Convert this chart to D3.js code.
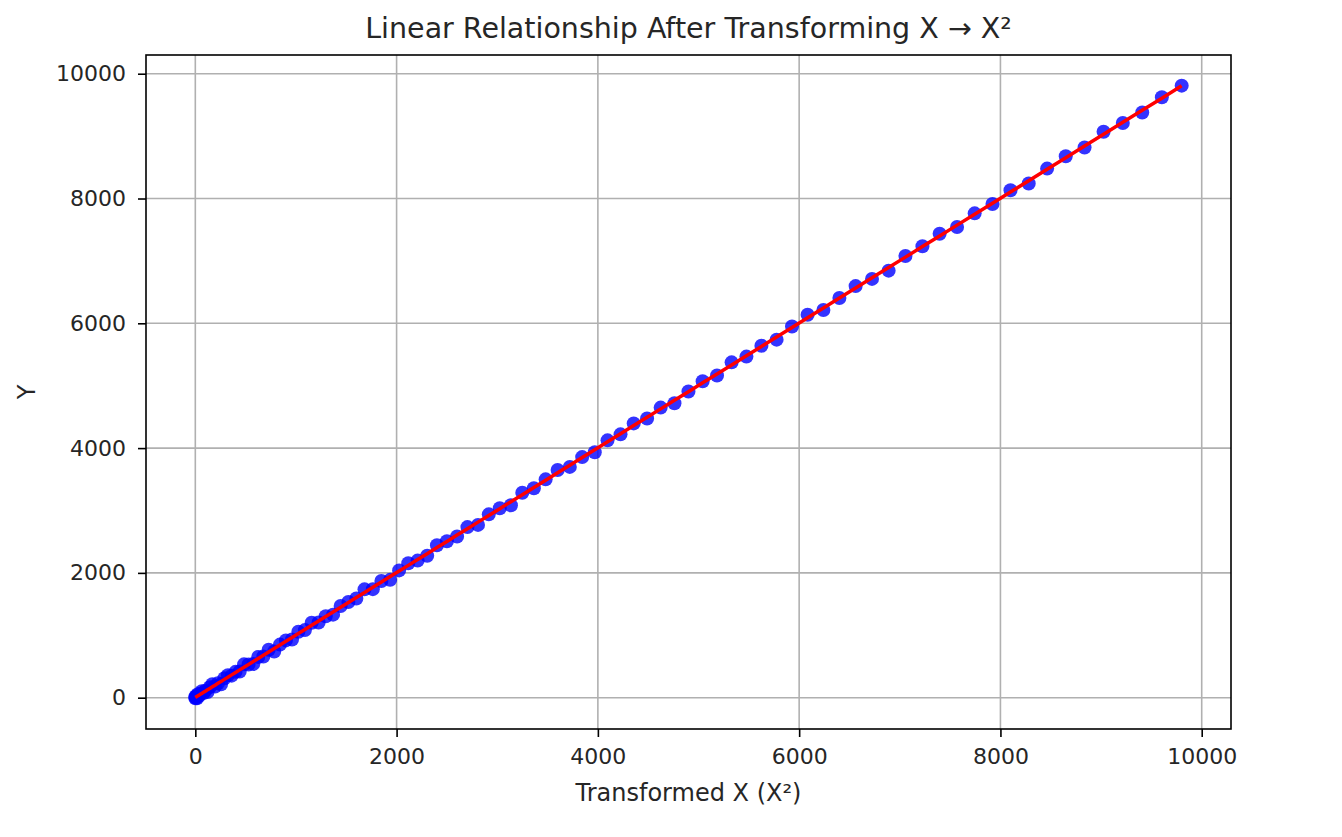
<!DOCTYPE html>
<meta charset="utf-8">
<script src="https://d3js.org/d3.v7.min.js"></script>
<style>
  body { margin: 0; background: #fff; }
  text { font-family: "DejaVu Sans", sans-serif; fill: #262626; }
</style>
<div id="chart"></div>
<script>

  // transformed x values (X squared) and observed y
  const xSquared = [0,1,4,9,16,25,36,49,64,81,100,121,144,169,196,225,256,289,324,361,
    400,441,484,529,576,625,676,729,784,841,900,961,1024,1089,1156,1225,1296,1369,1444,1521,
    1600,1681,1764,1849,1936,2025,2116,2209,2304,2401,2500,2601,2704,2809,2916,3025,3136,3249,3364,3481,
    3600,3721,3844,3969,4096,4225,4356,4489,4624,4761,4900,5041,5184,5329,5476,5625,5776,5929,6084,6241,
    6400,6561,6724,6889,7056,7225,7396,7569,7744,7921,8100,8281,8464,8649,8836,9025,9216,9409,9604,9801];

  const yValues = [5,-11,24,17,-9,55,26,64,104,76,112,91,169,217,178,231,216,311,359,353,
    414,419,534,532,541,653,661,769,739,851,918,933,1057,1083,1201,1205,1304,1331,1470,1533,
    1590,1736,1739,1869,1888,2040,2154,2197,2274,2443,2506,2583,2734,2769,2938,3035,3084,3284,3356,3499,
    3648,3699,3856,3934,4124,4220,4396,4474,4649,4719,4908,5071,5164,5374,5466,5640,5738,5949,6136,6213,
    6406,6596,6712,6844,7078,7235,7436,7544,7762,7913,8132,8241,8479,8677,8818,9070,9210,9379,9624,9809];

  const xTicks = [0, 2000, 4000, 6000, 8000, 10000];
  const yTicks = [0, 2000, 4000, 6000, 8000, 10000];

  const W = 1342, H = 837;
  const margin = {top: 55, right: 111, bottom: 108, left: 146};
  const width = W - margin.left - margin.right,
        height = H - margin.top - margin.bottom;

  const svg = d3.select("#chart").append("svg")
    .attr("width", W).attr("height", H);

  const g = svg.append("g")
    .attr("transform", `translate(${margin.left},${margin.top})`);

  // matplotlib style 5% padding
  const xPad = (d3.max(xSquared) - d3.min(xSquared)) * 0.05;
  const yPad = (d3.max(yValues) - d3.min(yValues)) * 0.05;
  const x = d3.scaleLinear()
    .domain([d3.min(xSquared) - xPad, d3.max(xSquared) + xPad])
    .range([0, width]);
  const y = d3.scaleLinear()
    .domain([d3.min(yValues) - yPad, d3.max(yValues) + yPad])
    .range([height, 0]);

  // grid
  g.append("g").selectAll("line").data(xTicks).join("line")
    .attr("x1", d => x(d)).attr("x2", d => x(d))
    .attr("y1", 0).attr("y2", height)
    .attr("stroke", "#b0b0b0").attr("stroke-width", 1.6);
  g.append("g").selectAll("line").data(yTicks).join("line")
    .attr("y1", d => y(d)).attr("y2", d => y(d))
    .attr("x1", 0).attr("x2", width)
    .attr("stroke", "#b0b0b0").attr("stroke-width", 1.6);

  // points
  const pts = xSquared.map((d, i) => ({x: d, y: yValues[i]}));
  g.append("g").selectAll("circle").data(pts).join("circle")
    .attr("cx", d => x(d.x))
    .attr("cy", d => y(d.y))
    .attr("r", 7)
    .attr("fill", "#0000ff")
    .attr("fill-opacity", 0.8);

  // least squares fit line
  const mx = d3.mean(xSquared), my = d3.mean(yValues);
  let sxy = 0, sxx = 0;
  pts.forEach(p => { sxy += (p.x - mx) * (p.y - my); sxx += (p.x - mx) ** 2; });
  const slope = sxy / sxx, intercept = my - slope * mx;
  g.append("path")
    .datum(xSquared)
    .attr("fill", "none")
    .attr("stroke", "#ff0000")
    .attr("stroke-width", 3.5)
    .attr("d", d3.line().x(d => x(d)).y(d => y(slope * d + intercept)));

  // axes
  const xAxis = g.append("g")
    .attr("transform", `translate(0,${height})`)
    .call(d3.axisBottom(x).tickValues(xTicks).tickSize(8).tickPadding(11).tickFormat(d3.format("d")));
  const yAxis = g.append("g")
    .call(d3.axisLeft(y).tickValues(yTicks).tickSize(8).tickPadding(12).tickFormat(d3.format("d")));
  [xAxis, yAxis].forEach(a => {
    a.select(".domain").remove();
    a.selectAll(".tick line").attr("stroke", "#000").attr("stroke-width", 1.6);
    a.selectAll(".tick text").style("font-size", "22px").attr("fill", "#262626");
  });

  // frame
  g.append("rect")
    .attr("width", width).attr("height", height)
    .attr("fill", "none").attr("stroke", "#000").attr("stroke-width", 1.6);

  // labels
  svg.append("text")
    .attr("x", margin.left + width / 2).attr("y", 38)
    .attr("text-anchor", "middle")
    .style("font-size", "28.5px")
    .text("Linear Relationship After Transforming X \u2192 X\u00b2");
  svg.append("text")
    .attr("x", margin.left + width / 2).attr("y", 801)
    .attr("text-anchor", "middle")
    .style("font-size", "24px")
    .text("Transformed X (X\u00b2)");
  svg.append("text")
    .attr("transform", `translate(35,${margin.top + height / 2}) rotate(-90)`)
    .attr("text-anchor", "middle")
    .style("font-size", "24px")
    .text("Y");

</script>
